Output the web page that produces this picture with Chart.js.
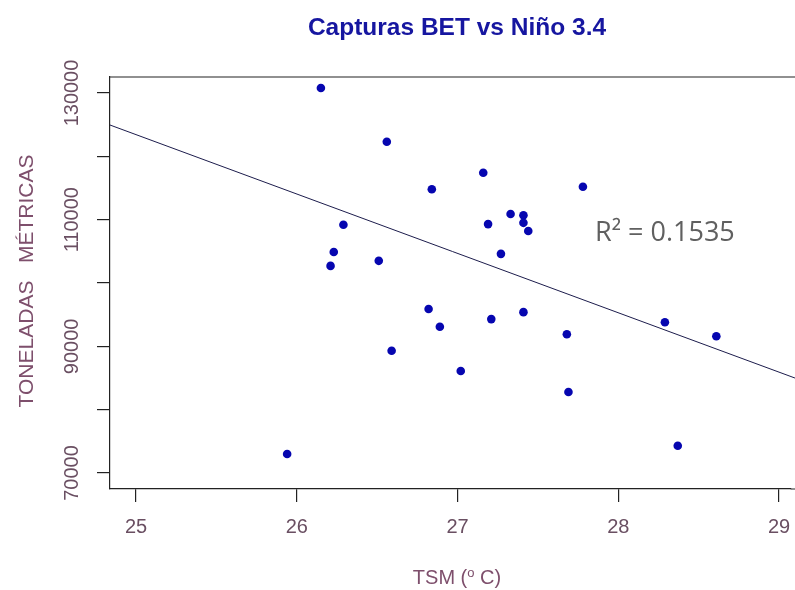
<!DOCTYPE html>
<html>
<head>
<meta charset="utf-8">
<script src="https://cdn.jsdelivr.net/npm/chart.js@4.4.1/dist/chart.umd.min.js"></script>
<style>
  html, body { margin: 0; padding: 0; background: #ffffff; }
  canvas { display: block; }
</style>
</head>
<body>
<canvas id="betChart" width="795" height="590"></canvas>
<script>
// Datos
const tituloGrafica = 'Capturas BET vs Niño 3.4';
const tituloY = 'TONELADAS   MÉTRICAS';
const tituloX = ['TSM (', 'o', ' C)'];
const textoR2 = 'R² = 0.1535';

const xTicks = [25, 26, 27, 28, 29];
const yTicks = [70000, 80000, 90000, 100000, 110000, 120000, 130000];
const yTickLabels = ['70000', '', '90000', '', '110000', '', '130000'];

// TSM (grados C) y capturas (toneladas metricas)
const tsm = [26.15, 26.56, 26.29, 26.23, 26.21, 26.51, 25.94, 26.59, 27.16, 26.84,
             27.78, 27.33, 27.41, 27.41, 27.44, 27.19, 27.27, 26.82, 26.89, 27.21,
             27.41, 27.68, 27.02, 27.69, 28.29, 28.61, 28.37];
const capturas = [130800, 122300, 109200, 104900, 102700, 103500, 73000, 89300, 117400, 114800,
                  115200, 110900, 110700, 109500, 108200, 109300, 104600, 95900, 93100, 94300,
                  95400, 91900, 86100, 82800, 93800, 91600, 74300];

// Recta de regresion (extremos)
const trendX = [24.8, 29.2];
const trendY = [125300, 84050];

const tickColor = '#6a4f62';
const titleColor = '#7e4f6c';
const axisColor = '#222222';

// Plugin para titulo, etiquetas de ejes, borde superior y texto R2
const textosPlugin = {
    id: 'textos',
    afterDraw(chart) {
        const ctx = chart.ctx;
        const area = chart.chartArea;
        ctx.save();

        // borde superior del recuadro, y eje x hasta el borde del lienzo
        ctx.strokeStyle = axisColor;
        ctx.lineWidth = 1.2;
        ctx.beginPath();
        ctx.moveTo(area.left, area.top);
        ctx.lineTo(chart.width, area.top);
        ctx.moveTo(area.right, area.bottom);
        ctx.lineTo(chart.width, area.bottom);
        ctx.stroke();

        // titulo
        ctx.fillStyle = '#1616a0';
        ctx.font = 'bold 24.5px "Liberation Sans", Arial, sans-serif';
        ctx.textAlign = 'center';
        ctx.textBaseline = 'middle';
        ctx.fillText(tituloGrafica, 457, 28);

        // titulo eje Y
        ctx.save();
        ctx.translate(27, 281);
        ctx.rotate(-Math.PI / 2);
        ctx.fillStyle = titleColor;
        ctx.font = '21px "Liberation Sans", Arial, sans-serif';
        ctx.fillText(tituloY, 0, 0);
        ctx.restore();

        // titulo eje X con "o" volada
        ctx.fillStyle = titleColor;
        ctx.textAlign = 'left';
        ctx.textBaseline = 'alphabetic';
        const fBig = '20px "Liberation Sans", Arial, sans-serif';
        const fSmall = '13px "Liberation Sans", Arial, sans-serif';
        ctx.font = fBig;
        const w1 = ctx.measureText(tituloX[0]).width;
        const w3 = ctx.measureText(tituloX[2]).width;
        ctx.font = fSmall;
        const w2 = ctx.measureText(tituloX[1]).width;
        let xPos = 457 - (w1 + w2 + w3) / 2;
        const base = 584;
        ctx.font = fBig;
        ctx.fillText(tituloX[0], xPos, base);
        xPos += w1;
        ctx.font = fSmall;
        ctx.fillText(tituloX[1], xPos, base - 7);
        xPos += w2;
        ctx.font = fBig;
        ctx.fillText(tituloX[2], xPos, base);

        // R cuadrado
        ctx.fillStyle = '#606060';
        ctx.font = '27px "Open Sans", "Noto Sans", sans-serif';
        ctx.textBaseline = 'middle';
        ctx.fillText(textoR2, 595, 233);

        ctx.restore();
    }
};

document.addEventListener('DOMContentLoaded', function() {
    const ctx = document.getElementById('betChart').getContext('2d');
    const puntos = tsm.map((x, i) => ({ x: x, y: capturas[i] }));
    const recta = trendX.map((x, i) => ({ x: x, y: trendY[i] }));

    const betChart = new Chart(ctx, {
        type: 'scatter',
        data: {
            datasets: [
                {
                    label: 'Capturas',
                    data: puntos,
                    backgroundColor: '#0606b0',
                    borderWidth: 0,
                    pointRadius: 4.3,
                    order: 1
                },
                {
                    type: 'line',
                    label: 'Tendencia',
                    data: recta,
                    borderColor: '#1c1c4c',
                    borderWidth: 1,
                    pointRadius: 0,
                    fill: false,
                    clip: { left: 0, top: 0, right: 6, bottom: 0 },
                    order: 2
                }
            ]
        },
        options: {
            responsive: false,
            animation: false,
            layout: {
                padding: { top: 77, left: 0, right: 0, bottom: 0 }
            },
            scales: {
                x: {
                    type: 'linear',
                    min: 24.838,
                    max: 29.0726,
                    afterBuildTicks: function(scale) {
                        scale.ticks = xTicks.map(v => ({ value: v }));
                    },
                    afterFit: function(scale) {
                        scale.height = 101;
                        scale.paddingRight = 0;
                    },
                    border: { display: true, color: axisColor, width: 1.2 },
                    grid: {
                        drawOnChartArea: false,
                        drawTicks: true,
                        tickLength: 13,
                        color: axisColor,
                        lineWidth: 1.2
                    },
                    ticks: {
                        color: tickColor,
                        padding: 0,
                        maxRotation: 0,
                        autoSkip: false,
                        font: { family: '"Liberation Sans", Arial, sans-serif', size: 20, lineHeight: 2.5 },
                        callback: function(value) { return String(value); }
                    }
                },
                y: {
                    type: 'linear',
                    min: 67474,
                    max: 132526,
                    afterBuildTicks: function(scale) {
                        scale.ticks = yTicks.map(v => ({ value: v }));
                    },
                    afterFit: function(scale) {
                        scale.width = 110;
                    },
                    border: { display: true, color: axisColor, width: 1.2 },
                    grid: {
                        drawOnChartArea: false,
                        drawTicks: true,
                        tickLength: 13,
                        color: axisColor,
                        lineWidth: 1.2
                    },
                    ticks: {
                        color: tickColor,
                        padding: -9,
                        minRotation: 90,
                        maxRotation: 90,
                        crossAlign: 'center',
                        autoSkip: false,
                        font: { family: '"Liberation Sans", Arial, sans-serif', size: 20 },
                        callback: function(value) {
                            const i = yTicks.indexOf(value);
                            return i >= 0 ? yTickLabels[i] : '';
                        }
                    }
                }
            },
            plugins: {
                legend: { display: false },
                tooltip: { enabled: false },
                title: { display: false }
            }
        },
        plugins: [textosPlugin]
    });
});
</script>
</body>
</html>
